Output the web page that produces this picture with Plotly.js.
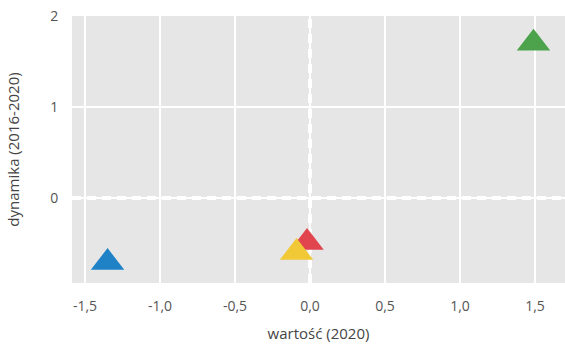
<!DOCTYPE html>
<html>
<head>
<meta charset="utf-8">
<script src="https://cdn.plot.ly/plotly-3.0.1.min.js"></script>
<style>html,body{margin:0;padding:0;background:#fff;}#chart{width:565px;height:345px;}</style>
</head>
<body>
<div id="chart"></div>
<script>
// Data
const names = ["A", "B", "C", "D"];
const xValues = [-1.35, -0.02, -0.09, 1.49];
const yValues = [-0.71, -0.49, -0.60, 1.70];
const colors = ["#1F82C6", "#E1464F", "#F1C936", "#4DA34B"];

const xTickVals = [-1.5, -1.0, -0.5, 0.0, 0.5, 1.0, 1.5];
const xTickText = ["-1,5", "-1,0", "-0,5", "0,0", "0,5", "1,0", "1,5"];
const yTickVals = [0, 1, 2];
const yTickText = ["0", "1", "2"];

const traces = names.map((n, i) => ({
  type: "scatter",
  mode: "markers",
  x: [xValues[i]],
  y: [yValues[i]],
  name: n,
  marker: {symbol: "triangle-up", size: 29, color: colors[i], line: {width: 0}},
  showlegend: false,
  hoverinfo: "skip"
}));

const font = {family: "Open Sans, Noto Sans, sans-serif", color: "#555555"};

const layout = {
  width: 565,
  height: 345,
  margin: {l: 72, r: 0, t: 16, b: 62},
  paper_bgcolor: "#ffffff",
  plot_bgcolor: "#e6e6e6",
  font: font,
  showlegend: false,
  separators: ",.",
  xaxis: {
    range: [-1.587, 1.70],
    tickvals: xTickVals,
    ticktext: xTickText,
    showgrid: true,
    gridcolor: "#ffffff",
    gridwidth: 1.5,
    zeroline: false,
    showline: false,
    ticks: "outside",
    ticklen: 10,
    tickcolor: "rgba(0,0,0,0)",
    tickfont: {size: 14, color: "#555555"},
    title: {text: "wartość (2020)", font: {size: 15, color: "#444444"}, standoff: 14}
  },
  yaxis: {
    range: [-0.934, 2.0],
    tickvals: yTickVals,
    ticktext: yTickText,
    showgrid: true,
    gridcolor: "#ffffff",
    gridwidth: 1.5,
    zeroline: false,
    showline: false,
    ticks: "outside",
    ticklen: 10,
    tickcolor: "rgba(0,0,0,0)",
    tickfont: {size: 14, color: "#555555"},
    title: {text: "dynamika (2016-2020)", font: {size: 15, color: "#444444"}, standoff: 26}
  },
  shapes: [
    {type: "line", xref: "x", yref: "paper", x0: 0, x1: 0, y0: 0, y1: 1,
     line: {color: "#ffffff", width: 4, dash: "9px,6px"}, layer: "between"},
    {type: "line", xref: "paper", yref: "y", x0: 0, x1: 1, y0: 0, y1: 0,
     line: {color: "#ffffff", width: 4, dash: "9px,6px"}, layer: "between"}
  ]
};

Plotly.newPlot("chart", traces, layout, {displayModeBar: false, staticPlot: true});
</script>
</body>
</html>
